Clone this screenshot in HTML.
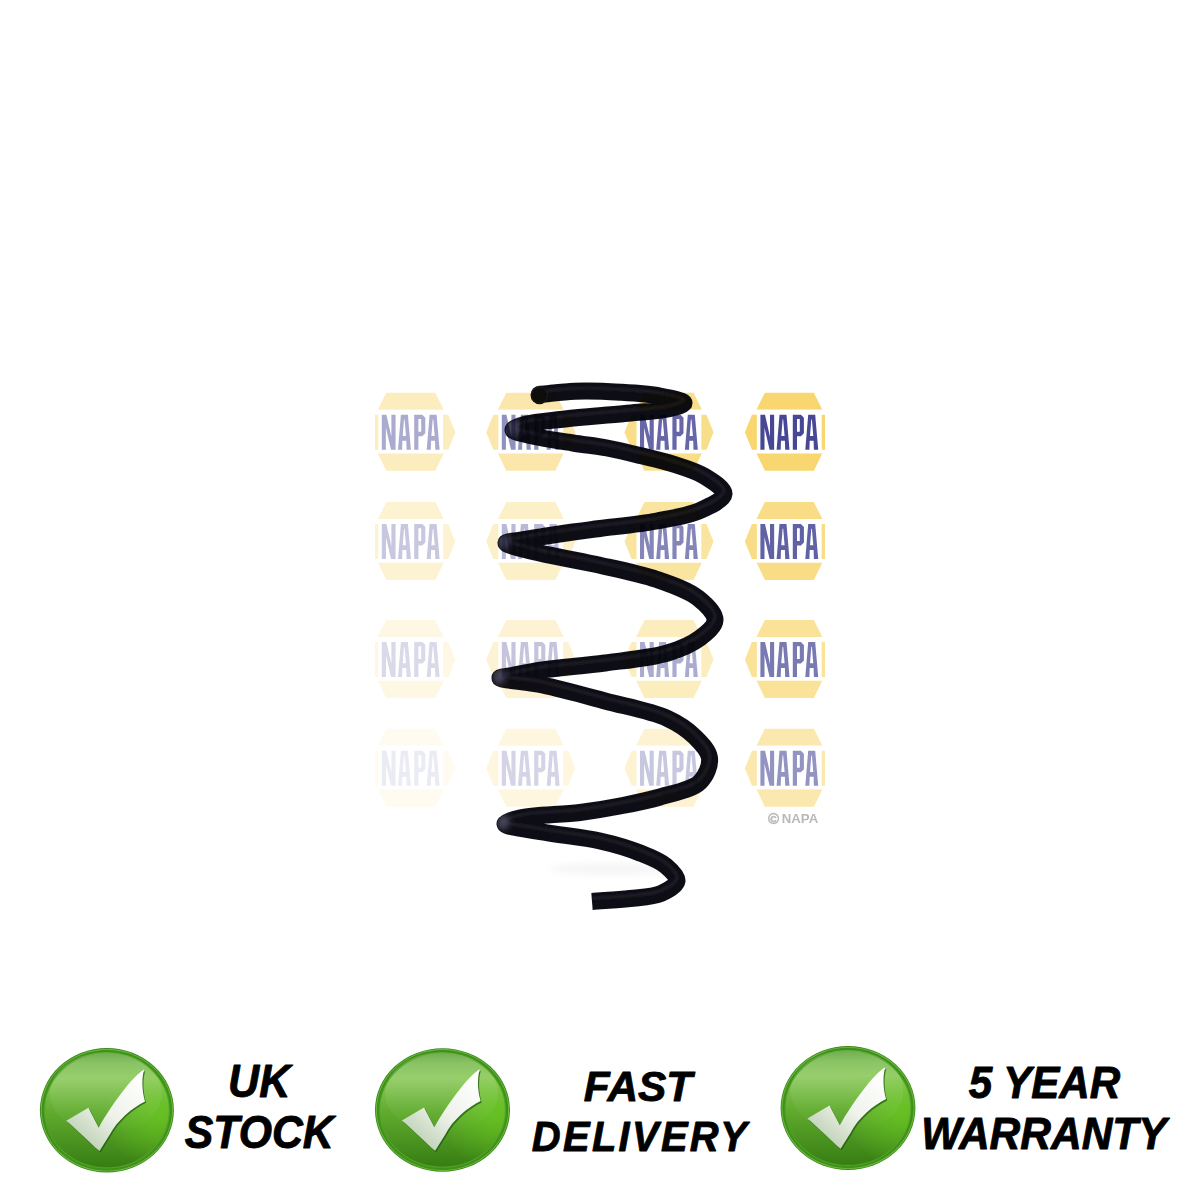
<!DOCTYPE html>
<html><head><meta charset="utf-8"><style>
html,body{margin:0;padding:0;background:#fff;}
body{width:1200px;height:1200px;overflow:hidden;position:relative;}
svg{position:absolute;left:0;top:0;}
.t{font-family:"Liberation Sans",sans-serif;font-weight:bold;font-style:italic;fill:#000;stroke:#000;stroke-width:0.9px;stroke-linejoin:round;}
</style></head><body>
<svg width="1200" height="1200" viewBox="0 0 1200 1200">
<defs>
<filter id="soft5" x="0" y="0" width="1200" height="1200" filterUnits="userSpaceOnUse"><feGaussianBlur stdDeviation="0.5"/></filter>
<filter id="wmblur" x="0" y="0" width="1200" height="1200" filterUnits="userSpaceOnUse"><feGaussianBlur stdDeviation="0.45"/></filter>
<filter id="sprblur" x="0" y="0" width="1200" height="1200" filterUnits="userSpaceOnUse"><feGaussianBlur stdDeviation="0.5"/></filter>
<filter id="soft" x="-5%" y="-5%" width="110%" height="110%"><feGaussianBlur stdDeviation="0.8"/></filter>
<filter id="blur3" x="-50%" y="-50%" width="200%" height="200%"><feGaussianBlur stdDeviation="3"/></filter>
<g id="napa">
<path d="M-24.5 -39.5 L24.5 -39.5 L33 -22.5 L-33 -22.5Z" fill="#f5c83c"/>
<path d="M-33 21 L33 21 L24.5 38.5 L-24.5 38.5Z" fill="#f5c83c"/>
<rect x="-33" y="-22.5" width="66" height="43.5" fill="#fff"/>
<path d="M-32.5 -17.5 L-37.5 -17.5 L-44.5 0 L-37.5 17.5 L-32.5 17.5Z" fill="#f5c83c"/>
<path d="M32.3 -17.5 L37.5 -17.5 L44.5 0 L37.5 17.5 L32.3 17.5Z" fill="#f5c83c"/>
<path d="M-29.00 -17.50 L-24.40 -17.50 L-19.40 4.50 L-19.40 -17.50 L-15.25 -17.50 L-15.25 17.50 L-19.80 17.50 L-24.90 -4.50 L-24.90 17.50 L-29.00 17.50Z M-9.90 -17.50 L-2.90 -17.50 L0.10 17.50 L-4.20 17.50 L-4.50 8.50 L-8.40 8.50 L-8.70 17.50 L-12.80 17.50Z M-6.80 -12.70 L-6.20 -12.70 L-4.80 3.80 L-8.10 3.80Z M3.40 -17.50 L11.50 -17.50 L14.50 -14.50 L14.50 1.00 L11.50 4.00 L7.60 4.00 L7.60 17.50 L3.40 17.50Z M7.60 -13.20 L10.40 -13.20 L10.40 -0.50 L7.60 -0.50Z M18.80 -17.50 L25.80 -17.50 L28.80 17.50 L24.50 17.50 L24.20 8.50 L20.30 8.50 L20.00 17.50 L15.90 17.50Z M21.90 -12.70 L22.50 -12.70 L23.90 3.80 L20.60 3.80Z" fill="#00006e" fill-rule="evenodd"/>
</g>
<clipPath id="wmclip"><rect x="375" y="385" width="450" height="430"/></clipPath>
<linearGradient id="gBody" x1="0" y1="0" x2="0" y2="1">
  <stop offset="0" stop-color="#5ea43a"/>
  <stop offset="0.1" stop-color="#7dbd52"/>
  <stop offset="0.22" stop-color="#8cc95c"/>
  <stop offset="0.5" stop-color="#62ad30"/>
  <stop offset="1" stop-color="#367d12"/>
</linearGradient>
<radialGradient id="gSide" cx="0.92" cy="0.55" r="0.45">
  <stop offset="0" stop-color="#6cd01c" stop-opacity="0.6"/>
  <stop offset="1" stop-color="#6cd01c" stop-opacity="0"/>
</radialGradient>
<linearGradient id="gGloss" x1="0" y1="0" x2="0" y2="1">
  <stop offset="0" stop-color="#ffffff" stop-opacity="0.12"/>
  <stop offset="0.35" stop-color="#ffffff" stop-opacity="0.10"/>
  <stop offset="1" stop-color="#ffffff" stop-opacity="0"/>
</linearGradient>
<linearGradient id="gCheck" x1="0.85" y1="0.05" x2="0.15" y2="0.95">
  <stop offset="0" stop-color="#ffffff"/>
  <stop offset="0.5" stop-color="#eef2ea"/>
  <stop offset="1" stop-color="#b8ccae"/>
</linearGradient>
</defs>
<!-- spring -->
<ellipse cx="612" cy="869" rx="62" ry="6" fill="#d4d4dc" opacity="0.22" filter="url(#blur3)"/>
<mask id="springMask" maskUnits="userSpaceOnUse" x="0" y="0" width="1200" height="1200"><path d="M539.5 394.5 C551.3 393.4 562.5 391.6 575.0 391.2 C589.1 390.7 605.5 391.3 620.0 392.2 C633.7 393.0 648.5 393.8 660.0 396.0 C669.1 397.7 683.9 400.6 684.0 403.0 C684.1 404.8 676.1 407.0 670.0 408.5 C659.4 411.1 641.1 411.9 625.0 413.5 C606.4 415.4 583.0 416.9 565.0 419.0 C550.3 420.7 534.3 421.8 525.0 424.5 C519.7 426.0 512.9 428.2 513.0 430.0 C513.2 432.6 530.5 435.4 540.0 437.5 C550.4 439.8 561.9 441.3 573.0 443.0 C584.2 444.8 595.8 445.9 607.0 448.0 C618.1 450.1 629.0 452.8 640.0 455.5 C651.0 458.2 662.2 460.5 673.0 464.0 C683.9 467.5 696.1 471.0 705.0 476.5 C712.7 481.3 724.4 488.5 724.0 494.0 C723.6 499.9 709.6 506.2 700.0 510.5 C688.1 515.8 672.4 518.1 657.0 521.0 C639.4 524.3 615.5 526.5 600.0 528.5 C589.3 529.9 583.4 530.5 573.0 532.0 C558.7 534.1 534.2 537.9 522.0 540.0 C515.2 541.2 506.1 541.5 506.0 543.0 C505.9 545.0 522.1 548.7 533.0 551.5 C549.2 555.7 573.5 559.4 594.0 564.0 C614.9 568.7 638.5 573.1 657.0 579.5 C672.4 584.8 687.9 590.1 698.0 598.0 C705.9 604.2 715.1 613.1 715.0 620.0 C714.9 626.4 706.7 632.9 700.0 638.0 C691.7 644.3 680.4 649.1 667.5 653.0 C650.3 658.2 625.9 660.2 605.0 663.0 C584.2 665.8 559.6 667.5 542.5 670.0 C530.5 671.8 519.8 674.0 512.0 675.5 C507.1 676.5 500.0 677.0 500.0 678.0 C500.0 679.8 527.0 681.8 542.5 685.0 C561.4 689.0 584.2 695.4 605.0 701.0 C625.9 706.6 651.3 711.0 667.5 718.5 C679.1 723.8 687.8 729.9 695.0 737.0 C701.3 743.3 708.6 750.5 709.5 758.0 C710.4 765.5 706.3 775.8 700.0 782.0 C691.9 790.0 673.5 793.0 660.0 797.0 C646.8 800.9 633.4 803.4 620.0 806.0 C606.7 808.6 594.7 810.6 580.0 812.5 C562.1 814.8 533.2 814.8 520.0 818.0 C513.2 819.6 504.8 822.1 505.0 824.0 C505.2 826.9 528.6 829.4 542.5 832.0 C559.6 835.2 582.7 837.1 600.0 841.0 C614.7 844.3 628.3 848.3 640.0 853.0 C649.8 856.9 659.6 860.6 666.0 866.0 C671.1 870.3 677.6 876.5 677.0 881.0 C676.3 885.7 667.7 890.6 661.0 893.5 C652.7 897.1 640.9 897.2 630.0 898.5 C618.0 899.9 604.7 900.5 592.0 901.5" fill="none" stroke="#fff" stroke-width="15.5" stroke-linejoin="round" stroke-linecap="butt"/></mask>
<g filter="url(#sprblur)">
<path d="M539.5 394.5 C551.3 393.4 562.5 391.6 575.0 391.2 C589.1 390.7 605.5 391.3 620.0 392.2 C633.7 393.0 648.5 393.8 660.0 396.0 C669.1 397.7 683.9 400.6 684.0 403.0 C684.1 404.8 676.1 407.0 670.0 408.5 C659.4 411.1 641.1 411.9 625.0 413.5 C606.4 415.4 583.0 416.9 565.0 419.0 C550.3 420.7 534.3 421.8 525.0 424.5 C519.7 426.0 512.9 428.2 513.0 430.0 C513.2 432.6 530.5 435.4 540.0 437.5 C550.4 439.8 561.9 441.3 573.0 443.0 C584.2 444.8 595.8 445.9 607.0 448.0 C618.1 450.1 629.0 452.8 640.0 455.5 C651.0 458.2 662.2 460.5 673.0 464.0 C683.9 467.5 696.1 471.0 705.0 476.5 C712.7 481.3 724.4 488.5 724.0 494.0 C723.6 499.9 709.6 506.2 700.0 510.5 C688.1 515.8 672.4 518.1 657.0 521.0 C639.4 524.3 615.5 526.5 600.0 528.5 C589.3 529.9 583.4 530.5 573.0 532.0 C558.7 534.1 534.2 537.9 522.0 540.0 C515.2 541.2 506.1 541.5 506.0 543.0 C505.9 545.0 522.1 548.7 533.0 551.5 C549.2 555.7 573.5 559.4 594.0 564.0 C614.9 568.7 638.5 573.1 657.0 579.5 C672.4 584.8 687.9 590.1 698.0 598.0 C705.9 604.2 715.1 613.1 715.0 620.0 C714.9 626.4 706.7 632.9 700.0 638.0 C691.7 644.3 680.4 649.1 667.5 653.0 C650.3 658.2 625.9 660.2 605.0 663.0 C584.2 665.8 559.6 667.5 542.5 670.0 C530.5 671.8 519.8 674.0 512.0 675.5 C507.1 676.5 500.0 677.0 500.0 678.0 C500.0 679.8 527.0 681.8 542.5 685.0 C561.4 689.0 584.2 695.4 605.0 701.0 C625.9 706.6 651.3 711.0 667.5 718.5 C679.1 723.8 687.8 729.9 695.0 737.0 C701.3 743.3 708.6 750.5 709.5 758.0 C710.4 765.5 706.3 775.8 700.0 782.0 C691.9 790.0 673.5 793.0 660.0 797.0 C646.8 800.9 633.4 803.4 620.0 806.0 C606.7 808.6 594.7 810.6 580.0 812.5 C562.1 814.8 533.2 814.8 520.0 818.0 C513.2 819.6 504.8 822.1 505.0 824.0 C505.2 826.9 528.6 829.4 542.5 832.0 C559.6 835.2 582.7 837.1 600.0 841.0 C614.7 844.3 628.3 848.3 640.0 853.0 C649.8 856.9 659.6 860.6 666.0 866.0 C671.1 870.3 677.6 876.5 677.0 881.0 C676.3 885.7 667.7 890.6 661.0 893.5 C652.7 897.1 640.9 897.2 630.0 898.5 C618.0 899.9 604.7 900.5 592.0 901.5" fill="none" stroke="#100f17" stroke-width="17" stroke-linejoin="round" stroke-linecap="butt"/>
<g mask="url(#springMask)">
<path d="M539.5 394.5 C551.3 393.4 562.5 391.6 575.0 391.2 C589.1 390.7 605.5 391.3 620.0 392.2 C633.7 393.0 648.5 393.8 660.0 396.0 C669.1 397.7 683.9 400.6 684.0 403.0 C684.1 404.8 676.1 407.0 670.0 408.5 C659.4 411.1 641.1 411.9 625.0 413.5 C606.4 415.4 583.0 416.9 565.0 419.0 C550.3 420.7 534.3 421.8 525.0 424.5 C519.7 426.0 512.9 428.2 513.0 430.0 C513.2 432.6 530.5 435.4 540.0 437.5 C550.4 439.8 561.9 441.3 573.0 443.0 C584.2 444.8 595.8 445.9 607.0 448.0 C618.1 450.1 629.0 452.8 640.0 455.5 C651.0 458.2 662.2 460.5 673.0 464.0 C683.9 467.5 696.1 471.0 705.0 476.5 C712.7 481.3 724.4 488.5 724.0 494.0 C723.6 499.9 709.6 506.2 700.0 510.5 C688.1 515.8 672.4 518.1 657.0 521.0 C639.4 524.3 615.5 526.5 600.0 528.5 C589.3 529.9 583.4 530.5 573.0 532.0 C558.7 534.1 534.2 537.9 522.0 540.0 C515.2 541.2 506.1 541.5 506.0 543.0 C505.9 545.0 522.1 548.7 533.0 551.5 C549.2 555.7 573.5 559.4 594.0 564.0 C614.9 568.7 638.5 573.1 657.0 579.5 C672.4 584.8 687.9 590.1 698.0 598.0 C705.9 604.2 715.1 613.1 715.0 620.0 C714.9 626.4 706.7 632.9 700.0 638.0 C691.7 644.3 680.4 649.1 667.5 653.0 C650.3 658.2 625.9 660.2 605.0 663.0 C584.2 665.8 559.6 667.5 542.5 670.0 C530.5 671.8 519.8 674.0 512.0 675.5 C507.1 676.5 500.0 677.0 500.0 678.0 C500.0 679.8 527.0 681.8 542.5 685.0 C561.4 689.0 584.2 695.4 605.0 701.0 C625.9 706.6 651.3 711.0 667.5 718.5 C679.1 723.8 687.8 729.9 695.0 737.0 C701.3 743.3 708.6 750.5 709.5 758.0 C710.4 765.5 706.3 775.8 700.0 782.0 C691.9 790.0 673.5 793.0 660.0 797.0 C646.8 800.9 633.4 803.4 620.0 806.0 C606.7 808.6 594.7 810.6 580.0 812.5 C562.1 814.8 533.2 814.8 520.0 818.0 C513.2 819.6 504.8 822.1 505.0 824.0 C505.2 826.9 528.6 829.4 542.5 832.0 C559.6 835.2 582.7 837.1 600.0 841.0 C614.7 844.3 628.3 848.3 640.0 853.0 C649.8 856.9 659.6 860.6 666.0 866.0 C671.1 870.3 677.6 876.5 677.0 881.0 C676.3 885.7 667.7 890.6 661.0 893.5 C652.7 897.1 640.9 897.2 630.0 898.5 C618.0 899.9 604.7 900.5 592.0 901.5" fill="none" stroke="#34343f" stroke-width="2.5" stroke-linejoin="round" opacity="0.45" transform="translate(0 -3)" filter="url(#soft)"/>
<g filter="url(#blur3)" fill="#56566e" opacity="0.8">
<ellipse cx="512" cy="428" rx="7" ry="11"/>
<ellipse cx="504" cy="541" rx="6" ry="9"/>
<ellipse cx="499" cy="676" rx="6" ry="9"/>
<ellipse cx="503" cy="822" rx="6" ry="8"/>
</g>
</g>
<ellipse cx="539.5" cy="395" rx="9" ry="9.2" fill="#08080d"/>
<ellipse cx="539.5" cy="395" rx="8" ry="8.2" fill="none" stroke="#26262f" stroke-width="1.2" opacity="0.7"/>
</g>
<!-- watermark -->
<g clip-path="url(#wmclip)" style="mix-blend-mode:multiply" filter="url(#wmblur)">
<use href="#napa" transform="translate(410.8 432.3)" opacity="0.33"/>
<use href="#napa" transform="translate(530.8 432.3)" opacity="0.43"/>
<use href="#napa" transform="translate(669.0 432.3)" opacity="0.6"/>
<use href="#napa" transform="translate(789.4 432.3)" opacity="0.72"/>
<use href="#napa" transform="translate(410.8 541.5)" opacity="0.22"/>
<use href="#napa" transform="translate(530.8 541.5)" opacity="0.28"/>
<use href="#napa" transform="translate(669.0 541.5)" opacity="0.48"/>
<use href="#napa" transform="translate(789.4 541.5)" opacity="0.62"/>
<use href="#napa" transform="translate(410.8 659.5)" opacity="0.15"/>
<use href="#napa" transform="translate(530.8 659.5)" opacity="0.23"/>
<use href="#napa" transform="translate(669.0 659.5)" opacity="0.33"/>
<use href="#napa" transform="translate(789.4 659.5)" opacity="0.52"/>
<use href="#napa" transform="translate(410.8 768.3)" opacity="0.08"/>
<use href="#napa" transform="translate(530.8 768.3)" opacity="0.17"/>
<use href="#napa" transform="translate(669.0 768.3)" opacity="0.22"/>
<use href="#napa" transform="translate(789.4 768.3)" opacity="0.42"/>
</g>
<g filter="url(#soft5)" fill="#b9b9b9" font-family="Liberation Sans, sans-serif" font-weight="bold"><text x="768" y="824" font-size="15" stroke="#b9b9b9" stroke-width="0.5">©</text><text x="781.8" y="822.8" font-size="13.2">NAPA</text></g>
<!-- badges -->
<g transform="translate(106.9 1110.3)">
  <ellipse cx="0" cy="0" rx="67" ry="62.2" fill="#3c8a1a"/>
  <ellipse cx="0" cy="0" rx="66.1" ry="61.300000000000004" fill="#6fbb40"/>
  <ellipse cx="0" cy="0" rx="65.2" ry="60.400000000000006" fill="#3f9219"/>
  <ellipse cx="0" cy="0" rx="62.4" ry="57.6" fill="url(#gBody)"/>
  <ellipse cx="0" cy="0" rx="62.4" ry="57.6" fill="url(#gSide)"/>
  <ellipse cx="0" cy="0" rx="62.4" ry="57.6" fill="none" stroke="#55a42c" stroke-width="1.2" opacity="0.8"/>
  <ellipse cx="-1" cy="-17" rx="56" ry="41.05200000000001" fill="url(#gGloss)"/>
  <path d="M-40.6 10.5 L-18.5 -2.6 L-8.15 17.35 C3.85 -4.5 26 -34.5 37.2 -40.75 C34.8 -32.8 34.8 -20.3 38.1 -8.9 C26 -3 10 10 2.5 25 L-7.4 40.8 C-18 32 -28 21 -40.6 10.5Z" fill="#1f5c0c" opacity="0.75" transform="translate(1.1 1.4)"/>
  <path d="M-40.6 10.5 L-18.5 -2.6 L-8.15 17.35 C3.85 -4.5 26 -34.5 37.2 -40.75 C34.8 -32.8 34.8 -20.3 38.1 -8.9 C26 -3 10 10 2.5 25 L-7.4 40.8 C-18 32 -28 21 -40.6 10.5Z" fill="url(#gCheck)"/>
</g>
<g transform="translate(442.5 1110)">
  <ellipse cx="0" cy="0" rx="67.5" ry="61.8" fill="#3c8a1a"/>
  <ellipse cx="0" cy="0" rx="66.6" ry="60.9" fill="#6fbb40"/>
  <ellipse cx="0" cy="0" rx="65.7" ry="60.0" fill="#3f9219"/>
  <ellipse cx="0" cy="0" rx="62.9" ry="57.199999999999996" fill="url(#gBody)"/>
  <ellipse cx="0" cy="0" rx="62.9" ry="57.199999999999996" fill="url(#gSide)"/>
  <ellipse cx="0" cy="0" rx="62.9" ry="57.199999999999996" fill="none" stroke="#55a42c" stroke-width="1.2" opacity="0.8"/>
  <ellipse cx="-1" cy="-17" rx="56.5" ry="40.788" fill="url(#gGloss)"/>
  <path d="M-40.6 10.5 L-18.5 -2.6 L-8.15 17.35 C3.85 -4.5 26 -34.5 37.2 -40.75 C34.8 -32.8 34.8 -20.3 38.1 -8.9 C26 -3 10 10 2.5 25 L-7.4 40.8 C-18 32 -28 21 -40.6 10.5Z" fill="#1f5c0c" opacity="0.75" transform="translate(1.1 1.4)"/>
  <path d="M-40.6 10.5 L-18.5 -2.6 L-8.15 17.35 C3.85 -4.5 26 -34.5 37.2 -40.75 C34.8 -32.8 34.8 -20.3 38.1 -8.9 C26 -3 10 10 2.5 25 L-7.4 40.8 C-18 32 -28 21 -40.6 10.5Z" fill="url(#gCheck)"/>
</g>
<g transform="translate(848 1108)">
  <ellipse cx="0" cy="0" rx="67.4" ry="62" fill="#3c8a1a"/>
  <ellipse cx="0" cy="0" rx="66.5" ry="61.1" fill="#6fbb40"/>
  <ellipse cx="0" cy="0" rx="65.60000000000001" ry="60.2" fill="#3f9219"/>
  <ellipse cx="0" cy="0" rx="62.800000000000004" ry="57.4" fill="url(#gBody)"/>
  <ellipse cx="0" cy="0" rx="62.800000000000004" ry="57.4" fill="url(#gSide)"/>
  <ellipse cx="0" cy="0" rx="62.800000000000004" ry="57.4" fill="none" stroke="#55a42c" stroke-width="1.2" opacity="0.8"/>
  <ellipse cx="-1" cy="-17" rx="56.400000000000006" ry="40.92" fill="url(#gGloss)"/>
  <path d="M-40.6 10.5 L-18.5 -2.6 L-8.15 17.35 C3.85 -4.5 26 -34.5 37.2 -40.75 C34.8 -32.8 34.8 -20.3 38.1 -8.9 C26 -3 10 10 2.5 25 L-7.4 40.8 C-18 32 -28 21 -40.6 10.5Z" fill="#1f5c0c" opacity="0.75" transform="translate(1.1 1.4)"/>
  <path d="M-40.6 10.5 L-18.5 -2.6 L-8.15 17.35 C3.85 -4.5 26 -34.5 37.2 -40.75 C34.8 -32.8 34.8 -20.3 38.1 -8.9 C26 -3 10 10 2.5 25 L-7.4 40.8 C-18 32 -28 21 -40.6 10.5Z" fill="url(#gCheck)"/>
</g>
<text class="t" font-size="46.5" text-anchor="middle" transform="translate(259.2 1097.3) scale(0.927 1)">UK</text>
<text class="t" font-size="46.5" text-anchor="middle" transform="translate(259.3 1147.8) scale(0.92 1)">STOCK</text>
<text class="t" font-size="43.4" text-anchor="middle" transform="translate(638 1100.6) scale(0.977 1)">FAST</text>
<text class="t" font-size="43.4" text-anchor="middle" letter-spacing="2.5" transform="translate(640.5 1150.6) scale(0.92 1)">DELIVERY</text>
<text class="t" font-size="43.9" text-anchor="middle" transform="translate(1044.5 1097.5) scale(0.96 1)">5 YEAR</text>
<text class="t" font-size="43.9" text-anchor="middle" transform="translate(1043.9 1148.9) scale(0.968 1)">WARRANTY</text>
</svg>
</body></html>
